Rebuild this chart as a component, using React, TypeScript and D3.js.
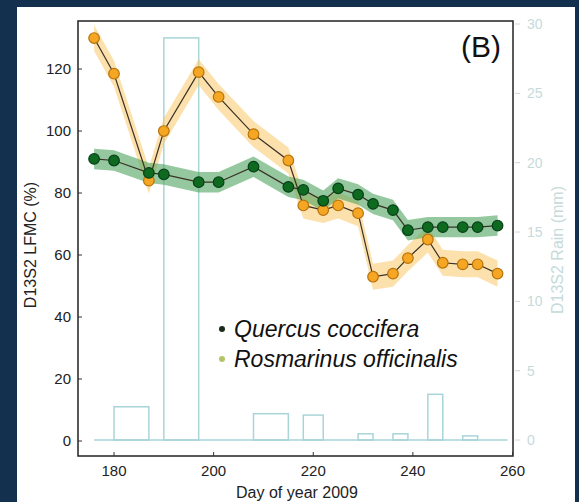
import * as d3 from 'd3';

// sampling days (day of year 2009)
const days = [176, 180, 187, 190, 197, 201, 208, 215, 218, 222, 225, 229, 232, 236, 239, 243, 246, 250, 253, 257];
const quercus = [91, 90.5, 86.5, 86, 83.5, 83.5, 88.5, 82, 81, 77.5, 81.5, 79.5, 76.5, 74.5, 68, 69, 69, 69, 69, 69.5];
const rosmarinus = [130, 118.5, 84, 100, 119, 111, 99, 90.5, 76, 74.5, 76, 73.5, 53, 54, 59, 65, 57.5, 57, 57, 54];
const quercusBand = 3.3;
const rosmarinusBand = 4.2;

// rain accumulated between sampling dates
const rainStart = [180, 190, 208, 218, 229, 236, 243, 250];
const rainEnd = [187, 197, 215, 222, 232, 239, 246, 253];
const rainMm = [2.4, 29, 1.9, 1.8, 0.45, 0.45, 3.3, 0.3];
const rainSpan = [176, 259];

const xTicks = [180, 200, 220, 240, 260];
const yTicks = [0, 20, 40, 60, 80, 100, 120];
const rainTicks = [0, 5, 10, 15, 20, 25, 30];

const W = 579;
const H = 502;
const PLOT = { left: 78, right: 513, top: 21, bottom: 456 };
const FONT = '"Liberation Sans", Arial, sans-serif';
const RAIN_COLOR = '#a9d5d8';
const RAIN_TEXT = '#c6dada';

export default function App() {
  const x = d3.scaleLinear().domain([172.77, 260.1]).range([PLOT.left, PLOT.right]);
  const y = d3.scaleLinear().domain([-4.84, 135.5]).range([PLOT.bottom, PLOT.top]);
  const yRain = d3.scaleLinear().domain([-1.15, 30.22]).range([PLOT.bottom, PLOT.top]);

  const line = d3.line<number>().x((_, i) => x(days[i])).y((d) => y(d));
  const band = (half: number) =>
    d3.area<number>()
      .x((_, i) => x(days[i]))
      .y0((d) => y(d - half))
      .y1((d) => y(d + half));

  const series = [
    { name: 'Rosmarinus', values: rosmarinus, half: rosmarinusBand, band: '#fbc35a', bandOp: 0.5, fill: '#f5a623', stroke: '#b8740c' },
    { name: 'Quercus', values: quercus, half: quercusBand, band: '#4ea35e', bandOp: 0.6, fill: '#0d6a1f', stroke: '#06401a' },
  ];

  const y0 = yRain(0);

  return (
    <svg width={W} height={H} style={{ position: 'absolute', left: 0, top: 0 }} fontFamily={FONT}>
      <rect x={0} y={0} width={W} height={H} fill="#14304f" />
      <rect x={17} y={7} width={558} height={H - 7} fill="#ffffff" />

      {/* rain bars */}
      <line x1={x(rainSpan[0])} x2={x(rainSpan[1])} y1={y0} y2={y0} stroke={RAIN_COLOR} strokeWidth={1.5} />
      {rainMm.map((v, i) => (
        <rect
          key={i}
          x={x(rainStart[i])}
          y={yRain(v)}
          width={x(rainEnd[i]) - x(rainStart[i])}
          height={y0 - yRain(v)}
          fill="none"
          stroke={RAIN_COLOR}
          strokeWidth={1.5}
        />
      ))}

      {/* confidence ribbons */}
      {series.map((s) => (
        <path key={s.name + 'b'} d={band(s.half)(s.values) ?? ''} fill={s.band} fillOpacity={s.bandOp} />
      ))}

      {/* lines and points */}
      {series.map((s) => (
        <g key={s.name}>
          <path d={line(s.values) ?? ''} fill="none" stroke="#3b3025" strokeWidth={1.2} />
          {s.values.map((v, i) => (
            <circle key={i} cx={x(days[i])} cy={y(v)} r={5.3} fill={s.fill} stroke={s.stroke} strokeWidth={1.2} />
          ))}
        </g>
      ))}

      {/* frame */}
      <rect
        x={PLOT.left}
        y={PLOT.top}
        width={PLOT.right - PLOT.left}
        height={PLOT.bottom - PLOT.top}
        fill="none"
        stroke="#222"
        strokeWidth={1.5}
      />

      {/* x axis */}
      {xTicks.map((t) => (
        <g key={t}>
          <line x1={x(t)} x2={x(t)} y1={PLOT.bottom} y2={PLOT.bottom - 4} stroke="#333" />
          <text x={x(t)} y={476} textAnchor="middle" fontSize={15} fill="#222">{t}</text>
        </g>
      ))}
      <text x={297} y={498} textAnchor="middle" fontSize={16} fill="#222">Day of year 2009</text>

      {/* left axis */}
      {yTicks.map((t) => (
        <g key={t}>
          <line x1={PLOT.left} x2={PLOT.left + 4} y1={y(t)} y2={y(t)} stroke="#333" />
          <text x={71} y={y(t) + 5} textAnchor="end" fontSize={15} fill="#222">{t}</text>
        </g>
      ))}
      <text transform={`translate(36, 245) rotate(-90)`} textAnchor="middle" fontSize={16} fill="#222">D13S2 LFMC (%)</text>

      {/* right axis (rain) */}
      {rainTicks.map((t) => (
        <g key={t}>
          <line x1={PLOT.right + 2} x2={PLOT.right + 7} y1={yRain(t)} y2={yRain(t)} stroke={RAIN_TEXT} />
          <text x={527} y={yRain(t) + 5} fontSize={14} fill={RAIN_TEXT}>{t}</text>
        </g>
      ))}
      <text transform={`translate(563, 250) rotate(-90)`} textAnchor="middle" fontSize={16} fill={RAIN_TEXT}>D13S2 Rain (mm)</text>

      {/* panel label */}
      <text x={501} y={57} textAnchor="end" fontSize={30} fill="#111">(B)</text>

      {/* legend */}
      <circle cx={222} cy={329} r={3} fill="#1c2a1c" />
      <text x={234} y={337} fontSize={23} fontStyle="italic" fill="#111">Quercus coccifera</text>
      <circle cx={222} cy={359} r={3} fill="#b5c46a" />
      <text x={234} y={367} fontSize={23} fontStyle="italic" fill="#111">Rosmarinus officinalis</text>
    </svg>
  );
}
